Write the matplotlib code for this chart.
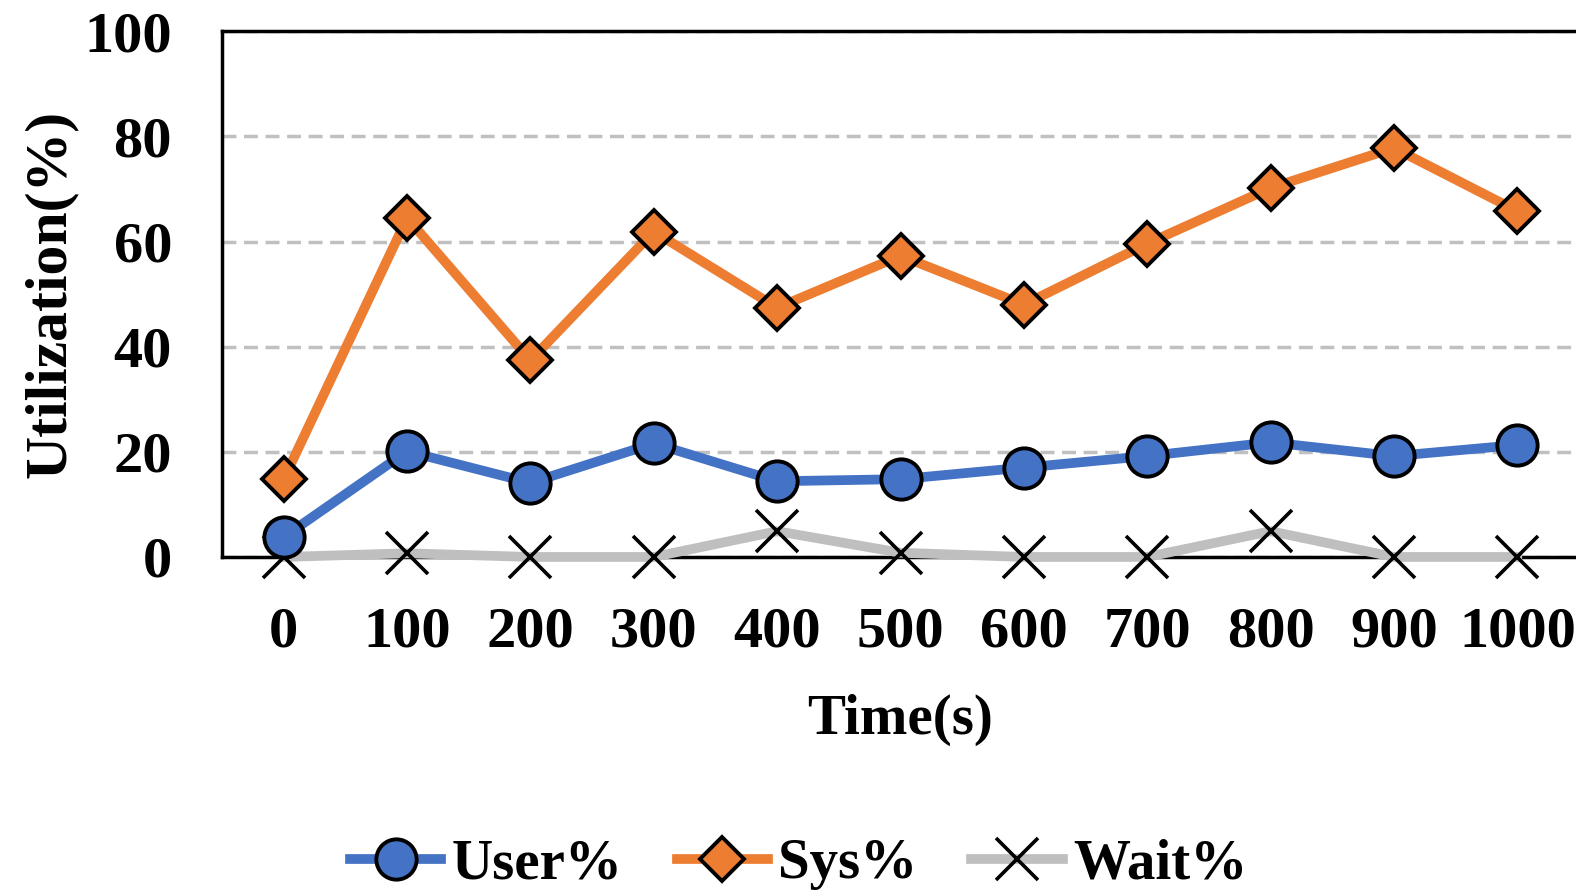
import matplotlib.pyplot as plt

plt.rcParams['font.family'] = ['Liberation Serif', 'DejaVu Serif']
plt.rcParams['font.weight'] = 'bold'

# CPU utilization sampled every 100 s
times = [0, 100, 200, 300, 400, 500, 600, 700, 800, 900, 1000]
user = [3.8, 20.1, 14.1, 21.6, 14.4, 14.8, 17.0, 19.2, 21.8, 19.2, 21.3]
sys_ = [14.8, 64.5, 37.4, 61.9, 47.4, 57.3, 48.0, 59.6, 70.2, 77.8, 65.8]
wait = [0.0, 0.7, 0.0, 0.0, 4.9, 0.8, 0.0, 0.0, 4.9, 0.0, 0.0]

fig = plt.figure(figsize=(15.76, 8.94), dpi=100)
ax = fig.add_axes([0.1409, 0.377, 0.861, 0.588])

ax.plot(times, wait, color='#bfbfbf', lw=7, marker='x', ms=30, mec='black',
        mew=2.6, label='Wait%', zorder=3, clip_on=False)
ax.plot(times, user, color='#4472c4', lw=7, marker='o', ms=29, mfc='#4472c4',
        mec='black', mew=2.8, label='User%', zorder=4, clip_on=False)
ax.plot(times, sys_, color='#ed7d31', lw=7, marker='D', ms=22, mfc='#ed7d31',
        mec='black', mew=2.8, label='Sys%', zorder=5, clip_on=False)

ax.set_xlim(-50, 1050)
ax.set_ylim(0, 100)
ax.set_xticks(times)
ax.set_yticks([0, 20, 40, 60, 80, 100])
ax.tick_params(axis='both', length=0, labelsize=42)
ax.tick_params(axis='y', pad=36)
ax.tick_params(axis='x', pad=36)

ax.yaxis.grid(True, color='#c0c0c0', lw=2.5, ls=(0, (4, 2.2)))
ax.set_axisbelow(True)
for side in ['left', 'top', 'bottom']:
    ax.spines[side].set_linewidth(2.5)
    ax.spines[side].set_color('black')
ax.spines['right'].set_visible(False)

ax.set_xlabel('Time(s)', fontsize=41, fontweight='bold', labelpad=25)
ax.set_ylabel('Utilization(%)', fontsize=43, fontweight='bold')
ax.yaxis.set_label_coords(-0.106, 0.5)

handles, labels = ax.get_legend_handles_labels()
order = [1, 2, 0]
ax.legend([handles[i] for i in order], [labels[i] for i in order],
          loc='center', bbox_to_anchor=(0.425, -0.585), ncol=3, frameon=False,
          fontsize=41, handlelength=1.6, columnspacing=0.95, handletextpad=0.18)

fig.savefig('out.png', dpi=100)
